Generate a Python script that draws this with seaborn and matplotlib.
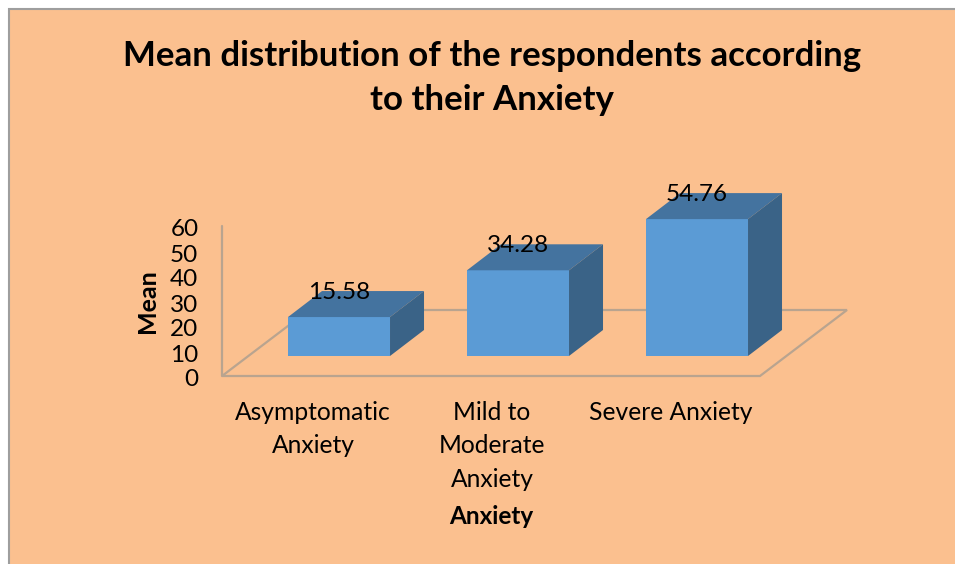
import matplotlib
matplotlib.use('Agg')
import matplotlib.pyplot as plt
from matplotlib.patches import Polygon, Rectangle
from matplotlib.transforms import ScaledTranslation
import numpy as np
import pandas as pd
import seaborn as sns

categories = ['Asymptomatic\nAnxiety', 'Mild to\nModerate\nAnxiety', 'Severe Anxiety']
means = [15.58, 34.28, 54.76]
mean_labels = ['15.58', '34.28', '54.76']
y_ticks = [0, 10, 20, 30, 40, 50, 60]

W, H = 955, 564
BG = '#FBC08F'
FRONT = '#5B9BD5'
TOP = '#44739F'
SIDE = '#3A6387'
GRID = '#B9A48F'

sns.set_theme(style='white')
plt.rcParams['font.family'] = ['Lato', 'DejaVu Sans']
plt.rcParams['text.color'] = 'black'

fig = plt.figure(figsize=(W / 100, H / 100), dpi=100, facecolor='white')
fig.patches.append(Rectangle((9 / W, -0.1), 1, 1.1 - 9 / H, transform=fig.transFigure,
                             facecolor=BG, edgecolor='#9E9E9E', linewidth=1.5, zorder=-1))

# axes box is the front edge of the floor, left wall gives the height
ax = fig.add_axes([222 / W, 1 - 376 / H, 538 / W, 150 / H])
ax.patch.set_alpha(0)

df = pd.DataFrame({'Anxiety': categories, 'Mean': means})
sns.barplot(data=df, x='Anxiety', y='Mean', color=FRONT, saturation=1, width=0.57,
            ax=ax, zorder=3, clip_on=False)

# bars stand 8 units in from the front of the floor, in a fake 3d view
lift = 8
step = 179
xlim = (-(339 - 222) / step, (760 - 339) / step)
ax.set_xlim(xlim)
ax.set_ylim(-lift, 60 - lift)
dx, dy = 34 / step, 26 / 2.5

floor_x = [xlim[0], xlim[1], xlim[1] + 87 / step, xlim[0] + 87 / step]
floor_y = [-lift, -lift, -lift + 66 / 2.5, -lift + 66 / 2.5]
ax.add_patch(Polygon(list(zip(floor_x, floor_y)), closed=True, fill=False,
                     edgecolor=GRID, linewidth=1.6, clip_on=False, zorder=1))
ax.plot([xlim[0], xlim[0]], [-lift, 60 - lift], color=GRID, linewidth=1.6, zorder=1, clip_on=False)

for bar in ax.containers[0]:
    x0, w, h = bar.get_x(), bar.get_width(), bar.get_height()
    bar.set_edgecolor('none')
    ax.add_patch(Polygon([(x0, h), (x0 + w, h), (x0 + w + dx, h + dy), (x0 + dx, h + dy)],
                         closed=True, facecolor=TOP, edgecolor='none', zorder=3, clip_on=False))
    ax.add_patch(Polygon([(x0 + w, 0), (x0 + w + dx, dy), (x0 + w + dx, h + dy), (x0 + w, h)],
                         closed=True, facecolor=SIDE, edgecolor='none', zorder=3, clip_on=False))

value_texts = ax.bar_label(ax.containers[0], labels=mean_labels, padding=10, fontsize=17.5, color='black', zorder=5)
for t in value_texts:
    t.set_annotation_clip(False)

ax.set_yticks(np.array(y_ticks) - lift, [str(t) for t in y_ticks], fontsize=17.5, color='black')
ax.set_xticks(np.arange(3) - 26 / step, categories, fontsize=17.7, color='black', linespacing=1.55)
ax.tick_params(axis='both', length=0)
ax.tick_params(axis='y', pad=17)
ax.tick_params(axis='x', pad=18)
down = ScaledTranslation(0, -2 / 100, fig.dpi_scale_trans)
for label in ax.get_yticklabels():
    label.set_transform(label.get_transform() + down)
sns.despine(ax=ax, left=True, bottom=True)
ax.set_xlabel('')
ax.set_ylabel('')

fig.text(491 / W, 1 - 517 / H, 'Anxiety', fontsize=17.5, fontweight='bold', ha='center', va='center')
fig.text(147 / W, 1 - 301 / H, 'Mean', fontsize=18, fontweight='bold', rotation=90, ha='center', va='center')
fig.text(492 / W, 1 - 78 / H, 'Mean distribution of the respondents according\nto their Anxiety',
         fontsize=25.1, fontweight='bold', ha='center', va='center', linespacing=1.46)

fig.savefig('out.png', dpi=100, facecolor='white')
